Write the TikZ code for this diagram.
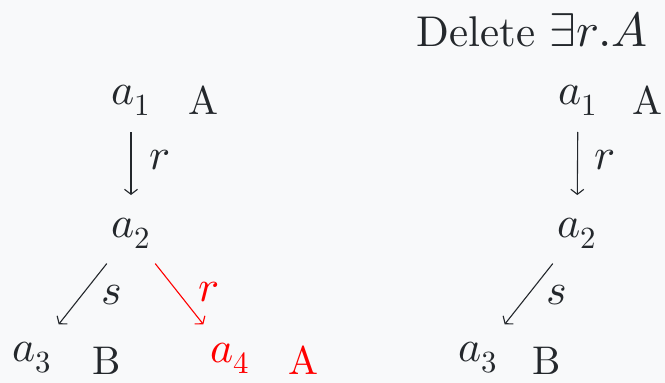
\documentclass[tikz,border=0pt]{standalone}
\usepackage{unicode-math}
\setmainfont{lmroman10-regular.otf}
\setmathfont{Latin Modern Math}
\usetikzlibrary{arrows.meta}
\definecolor{ink}{HTML}{24282C}
\definecolor{paper}{HTML}{F8F9FA}
\definecolor{hl}{HTML}{FF0000}
\begin{document}
\begin{tikzpicture}[x=1pt,y=-1pt,
  every node/.style={inner sep=0pt, text=ink, font=\fontsize{40}{44}\selectfont},
  ind/.style={anchor=center, font=\fontsize{44}{48}\selectfont},
  concept/.style={anchor=base},
  role/.style={anchor=center, font=\fontsize{44}{48}\selectfont},
  link/.style={draw=ink, line width=1.1pt, -{Straight Barb[length=5pt,width=13pt]}},
  hot/.style={text=hl},
  hotlink/.style={link, draw=hl}]
  % canvas
  \fill[paper] (0,0) rectangle (665,383);
  \useasboundingbox (0,0) rectangle (665,383);

  % left tree: before the deletion
  \node[ind] (L1) at (131,100) {$a_1$};
  \node[concept] (LA1) at (203,114) {A};
  \node[ind] (L2) at (131,233) {$a_2$};
  \node[ind] (L3) at (32,358) {$a_3$};
  \node[concept] (LB3) at (107,374) {B};
  \node[ind, hot] (L4) at (230,358) {$a_4$};
  \node[concept, hot] (LA4) at (303,374) {A};

  \draw[link, shorten <=32pt, shorten >=38pt] (L1.center) -- (L2.center);
  \node[role] (Lr12) at (160,160) {$r$};
  \draw[link, shorten <=39pt, shorten >=43pt] (L2.center) -- (L3.center);
  \node[role] (Ls23) at (112,295) {$s$};
  \draw[hotlink, shorten <=39pt, shorten >=43pt] (L2.center) -- (L4.center);
  \node[role, hot] (Lr24) at (209,292) {$r$};

  % right tree: after the deletion
  \node[anchor=base east, font=\fontsize{43}{48}\selectfont] (title) at (648,46)
    {Delete {\fontsize{48}{52}\selectfont$\exists r.A$}};
  \node[ind] (R1) at (578,100) {$a_1$};
  \node[concept] (RA1) at (647,114) {A};
  \node[ind] (R2) at (577,233) {$a_2$};
  \node[ind] (R3) at (478,358) {$a_3$};
  \node[concept] (RB3) at (547,374) {B};

  \draw[link, shorten <=32pt, shorten >=38pt] (R1.center) -- (R2.center);
  \node[role] (Rr12) at (605,160) {$r$};
  \draw[link, shorten <=39pt, shorten >=43pt] (R2.center) -- (R3.center);
  \node[role] (Rs23) at (557,295) {$s$};
\end{tikzpicture}
\end{document}
